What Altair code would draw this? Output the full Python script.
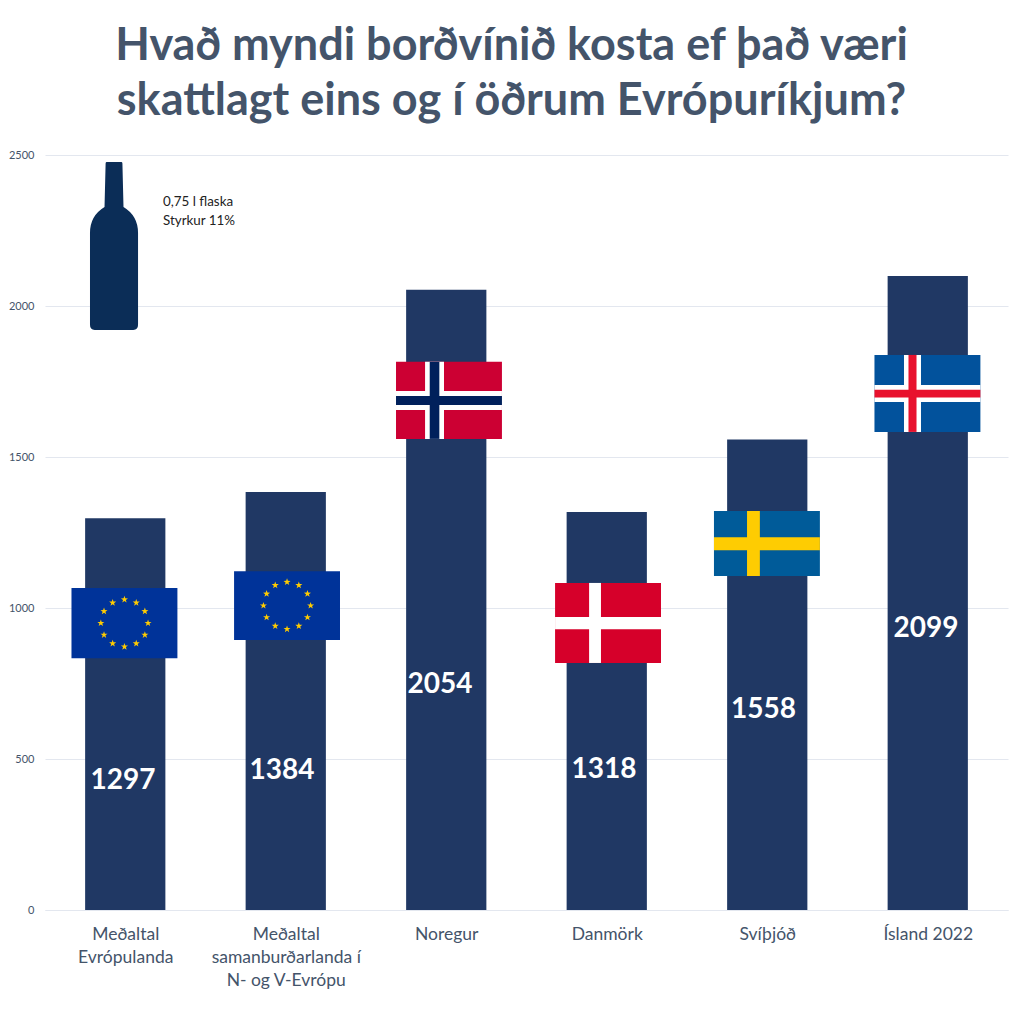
import json
import math
import altair as alt
import pandas as pd

# --- chart values ---
categories = [
    ["Meðaltal", "Evrópulanda"],
    ["Meðaltal", "samanburðarlanda í", "N- og V-Evrópu"],
    ["Noregur"],
    ["Danmörk"],
    ["Svíþjóð"],
    ["Ísland 2022"],
]
values = [1297, 1384, 2054, 1318, 1558, 2099]
value_label_at = [427, 460, 744, 464, 662, 932]
value_label_x = [0.486, 1.477, 2.461, 3.483, 4.477, 5.489]
bar_centers = [0.5, 1.5, 2.5, 3.5, 4.5, 5.5]
y_ticks = [0, 500, 1000, 1500, 2000, 2500]
title_lines = ["Hvað myndi borðvínið kosta ef það væri",
               "skattlagt eins og í öðrum Evrópuríkjum?"]
note_lines = ["0,75 l flaska", "Styrkur 11%"]

# flags, in data units: EU, EU, NO, DK, SE, IS
flag_center = [0.495, 1.508, 2.517, 3.508, 4.498, 5.498]
flag_low = [834, 894, 1560, 818, 1106, 1583]
flag_high = [1066, 1122, 1815, 1083, 1321, 1838]
flag_field = ["#003399", "#003399", "#CC0033", "#D6002A", "#005B99", "#02529C"]

# Nordic crosses: flag index, centre, half widths, colour (outer then inner)
cross_flag = [2, 2, 5, 5, 3, 4]
cross_x = [2.427, 2.427, 5.405, 5.405, 3.427, 4.414]
cross_y = [1687, 1687, 1710, 1710, 950, 1213]
cross_half_x = [0.059, 0.030, 0.053, 0.025, 0.037, 0.040]
cross_half_y = [31.5, 15, 28, 13, 20, 21.5]
cross_color = ["#FFFFFF", "#00205B", "#FFFFFF", "#E8112D", "#FFFFFF", "#FECC02"]

# EU star circles
star_flag = [0, 1]
star_center_y = [950, 1008]

TEXT = "#44546A"
FONT = "Lato"
STAR = ("M0 -1 L0.235 -0.324 L0.951 -0.309 L0.38 0.124 L0.588 0.809 "
        "L0 0.4 L-0.588 0.809 L-0.38 0.124 L-0.951 -0.309 L-0.235 -0.324 Z")
BOTTLE = ("M-0.09 -1 L0.09 -1 Q0.1 -1 0.1 -0.98 L0.113 -0.464 "
          "Q0.286 -0.36 0.286 -0.155 L0.286 0.94 Q0.286 1 0.23 1 "
          "L-0.23 1 Q-0.286 1 -0.286 0.94 L-0.286 -0.155 "
          "Q-0.286 -0.36 -0.113 -0.464 L-0.1 -0.98 Q-0.1 -1 -0.09 -1 Z")

bars = pd.DataFrame({
    "x": [c - 0.25 for c in bar_centers],
    "x2": [c + 0.25 for c in bar_centers],
    "v": values,
    "base": [0] * len(values),
    "at": value_label_at,
    "c": value_label_x,
})

rows = []
for c, lo, hi, col in zip(flag_center, flag_low, flag_high, flag_field):
    rows.append(dict(x=c - 0.33, x2=c + 0.33, y=lo, y2=hi, color=col))
for f, cx, cy, hx, hy, col in zip(cross_flag, cross_x, cross_y, cross_half_x, cross_half_y, cross_color):
    c, lo, hi = flag_center[f], flag_low[f], flag_high[f]
    rows.append(dict(x=cx - hx, x2=cx + hx, y=lo, y2=hi, color=col))
    rows.append(dict(x=c - 0.33, x2=c + 0.33, y=cy - hy, y2=cy + hy, color=col))
flags = pd.DataFrame(rows)

star_rows = []
for f, cy in zip(star_flag, star_center_y):
    for k in range(12):
        a = 2 * math.pi * k / 12
        star_rows.append(dict(x=flag_center[f] + 0.147 * math.sin(a), y=cy + 78 * math.cos(a)))
stars = pd.DataFrame(star_rows)

x_enc = alt.X("x:Q", scale=alt.Scale(domain=[0, 6], nice=False), title=None,
              axis=alt.Axis(values=bar_centers, grid=False, ticks=False, domain=True,
                            domainColor="#E3E7EF", domainWidth=1,
                            labelExpr=json.dumps(categories, ensure_ascii=False) + "[datum.value - 0.5]",
                            labelFont=FONT, labelFontSize=17.5, labelColor=TEXT,
                            labelLineHeight=23, labelPadding=15, labelOverlap=False,
                            labelFlush=False, labelAngle=0, labelBaseline="top"))
y_enc = alt.Y("v:Q", scale=alt.Scale(domain=[0, 2500], nice=False), title=None,
              axis=alt.Axis(values=y_ticks, grid=True, gridColor="#E3E7EF", gridWidth=1, format="d",
                            ticks=False, domain=False, labelFont=FONT, labelFontSize=11,
                            labelColor=TEXT, labelPadding=11))

bar_layer = alt.Chart(bars).mark_rect(color="#203864").encode(x=x_enc, x2="x2:Q", y=y_enc, y2="base:Q")
flag_layer = alt.Chart(flags).mark_rect().encode(
    x="x:Q", x2="x2:Q", y="y:Q", y2="y2:Q", color=alt.Color("color:N", scale=None))
star_layer = alt.Chart(stars).mark_point(
    shape=STAR, filled=True, color="#FFCC00", opacity=1, size=55).encode(x="x:Q", y="y:Q")
label_layer = alt.Chart(bars).mark_text(
    color="white", font=FONT, fontSize=28, fontWeight="bold").encode(
    x="c:Q", y="at:Q", text=alt.Text("v:Q", format="d"))
bottle_layer = alt.Chart(pd.DataFrame({"x": [0.43], "y": [2199]})).mark_point(
    shape=BOTTLE, filled=True, color="#0B2D57", opacity=1, size=28224).encode(x="x:Q", y="y:Q")
note_layer = alt.Chart(pd.DataFrame({"x": [0.735], "y": [2345], "t": [note_lines]})).mark_text(
    align="left", color="#222222", font=FONT, fontSize=13.4, lineHeight=19).encode(
    x="x:Q", y="y:Q", text="t:N")

chart = alt.layer(bar_layer, flag_layer, star_layer, label_layer, bottle_layer, note_layer).properties(
    width=963, height=755,
    background="white",
    autosize=alt.AutoSizeParams(type="none"),
    padding={"left": 37, "top": 147, "right": 8, "bottom": 100},
    title=alt.TitleParams(text=title_lines, font=FONT, fontSize=45, fontWeight="bold",
                          color=TEXT, anchor="middle", dx=-15, offset=25, lineHeight=55),
).configure_view(stroke=None)

chart.save("out.html", embed_options={"renderer": "svg", "actions": False})
